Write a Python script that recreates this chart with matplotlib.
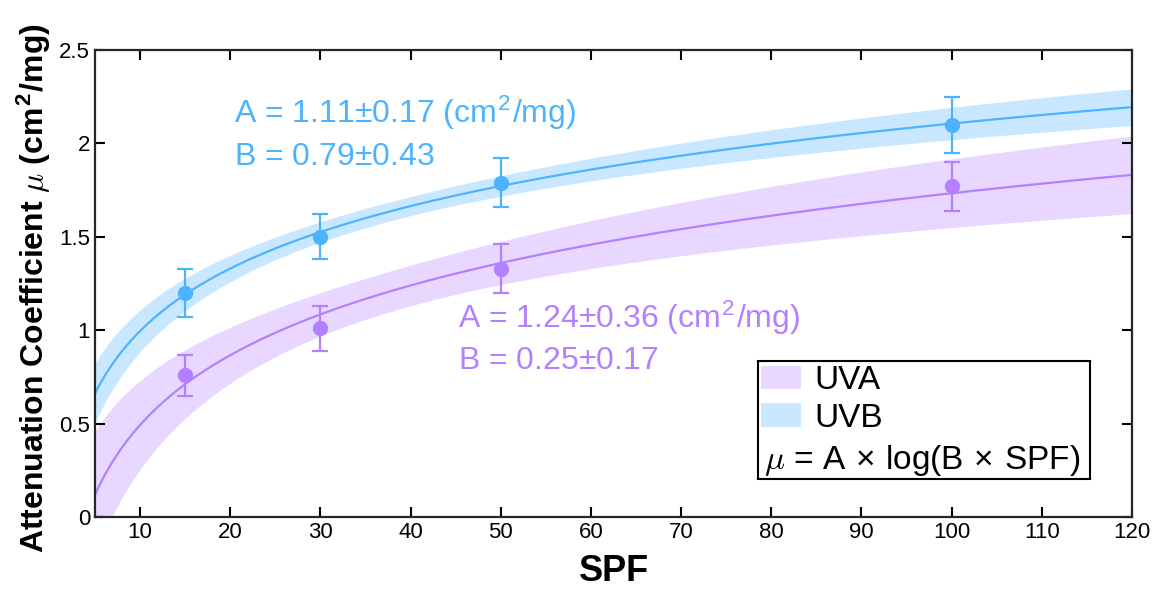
import numpy as np
import matplotlib
matplotlib.use("Agg")
import matplotlib.pyplot as plt
from matplotlib.patches import Patch, Rectangle

plt.rcParams['font.family'] = ['Liberation Sans', 'DejaVu Sans']
plt.rcParams['mathtext.fontset'] = 'custom'
plt.rcParams['mathtext.rm'] = 'Liberation Sans'
plt.rcParams['mathtext.bf'] = 'Liberation Sans:bold'
plt.rcParams['mathtext.it'] = 'cmmi10'
plt.rcParams['mathtext.fallback'] = 'cm'

spf = np.array([15, 30, 50, 100])

uvb_mu = np.array([1.20, 1.50, 1.79, 2.10])
uvb_err = np.array([0.13, 0.12, 0.13, 0.15])
uva_mu = np.array([0.76, 1.01, 1.33, 1.77])
uva_err = np.array([0.11, 0.12, 0.13, 0.13])

# fit parameters mu = A*log10(B*SPF), with 95% bounds
uvb_A, uvb_dA, uvb_B, uvb_dB = 1.11, 0.17, 0.79, 0.43
uva_A, uva_dA, uva_B, uva_dB = 1.24, 0.36, 0.25, 0.17

c_uvb = (77/255, 179/255, 1.0)
c_uva = (179/255, 128/255, 1.0)

x = np.linspace(5, 120, 400)
t = np.log10(x)
ts = np.log10(spf)
tbar = ts.mean()
sxx = ((ts - tbar) ** 2).sum()


def band(dA):
    # confidence band of the log-linear fit
    return dA * np.sqrt(sxx / len(ts) + (t - tbar) ** 2)


fig, ax = plt.subplots(figsize=(11.52, 5.91), dpi=100)
fig.subplots_adjust(left=0.0825, right=0.9826, top=0.9154, bottom=0.125)

for A, dA, B, col in [(uva_A, uva_dA, uva_B, c_uva), (uvb_A, uvb_dA, uvb_B, c_uvb)]:
    fit = A * np.log10(B * x)
    hw = band(dA)
    ax.fill_between(x, fit - hw, fit + hw, color=col, alpha=0.3, lw=0)
    ax.plot(x, fit, color=col, lw=1.6)

ax.errorbar(spf, uvb_mu, yerr=uvb_err, fmt='o', color=c_uvb, ms=10,
            capsize=6, elinewidth=1.6, capthick=1.6)
ax.errorbar(spf, uva_mu, yerr=uva_err, fmt='o', color=c_uva, ms=10,
            capsize=6, elinewidth=1.6, capthick=1.6)

pm = '$\\pm$'
ax.text(20.4, 2.11, 'A = %.2f%s%.2f (cm$^{2}$/mg)' % (uvb_A, pm, uvb_dA), color=c_uvb, fontsize=23)
ax.text(20.4, 1.885, 'B = %.2f%s%.2f' % (uvb_B, pm, uvb_dB), color=c_uvb, fontsize=23)
ax.text(45.3, 1.01, 'A = %.2f%s%.2f (cm$^{2}$/mg)' % (uva_A, pm, uva_dA), color=c_uva, fontsize=23)
ax.text(45.3, 0.795, 'B = %.2f%s%.2f' % (uva_B, pm, uva_dB), color=c_uva, fontsize=23)

ax.set_xlim(5, 120)
ax.set_ylim(0, 2.5)
ax.set_xticks(np.arange(10, 121, 10))
ax.set_yticks([0, 0.5, 1, 1.5, 2, 2.5])
ax.set_yticklabels(['0', '0.5', '1', '1.5', '2', '2.5'])
ax.tick_params(direction='in', length=7, width=1.5, labelsize=16, top=True, right=True)
for s in ax.spines.values():
    s.set_linewidth(1.6)
    s.set_color('#262626')

ax.set_xlabel('SPF', fontsize=26, fontweight='bold', labelpad=8)
ax.set_ylabel('Attenuation Coefficient $\\mu$ (cm$^{\\mathbf{2}}$/mg)', fontsize=23,
              fontweight='bold')
ax.yaxis.set_label_coords(-0.041, 0.49)

# legend box: two band swatches plus the model equation
box = Rectangle((0.6393, 0.0814), 0.3202, 0.2526, transform=ax.transAxes,
                facecolor='white', edgecolor='black', lw=1.5, zorder=5)
ax.add_patch(box)
handles = [Patch(facecolor=c_uva, alpha=0.3, edgecolor='none'),
           Patch(facecolor=c_uvb, alpha=0.3, edgecolor='none')]
leg = ax.legend(handles, ['UVA', 'UVB'], loc='upper left', bbox_to_anchor=(0.6425, 0.326),
                fontsize=24, frameon=False, handlelength=1.2, handleheight=0.7,
                handletextpad=0.4, borderaxespad=0, borderpad=0, labelspacing=0.2)
leg.set_zorder(6)
ax.text(0.6455, 0.122, '$\\mu$ = A$\\,\\times\\,$log(B$\\,\\times\\,$SPF)', transform=ax.transAxes,
        fontsize=24, va='center', zorder=7)

fig.savefig('out.png', dpi=100)
